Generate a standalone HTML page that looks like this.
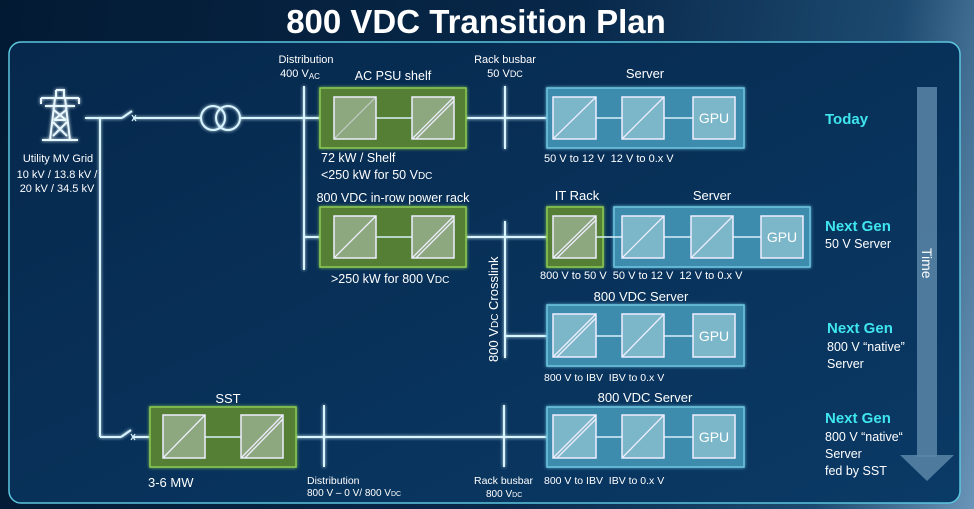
<!DOCTYPE html>
<html><head><meta charset="utf-8"><style>
html,body{margin:0;padding:0;}
body{width:974px;height:509px;overflow:hidden;background:linear-gradient(100deg,#031a33 0%,#08284a 55%,#1d4a70 85%,#6a95b8 100%);font-family:"Liberation Sans",sans-serif;}
svg{position:absolute;left:0;top:0}
text{font-family:"Liberation Sans",sans-serif;fill:#fff}
</style></head><body>
<svg width="974" height="509" viewBox="0 0 974 509">
<defs>
<filter id="g" x="-20%" y="-20%" width="140%" height="140%"><feGaussianBlur stdDeviation="1.5" result="b"/><feMerge><feMergeNode in="b"/><feMergeNode in="SourceGraphic"/></feMerge></filter>
<linearGradient id="pn" x1="0" y1="0" x2="1" y2="1"><stop offset="0" stop-color="#06284c"/><stop offset="1" stop-color="#0a3a66"/></linearGradient>
</defs>
<text x="476" y="33" font-size="33" font-weight="bold" text-anchor="middle">800 VDC Transition Plan</text>
<rect x="9" y="42" width="951" height="461" rx="12" fill="url(#pn)" stroke="#5cc6de" stroke-width="1.5"/>

<!-- time arrow -->
<rect x="917" y="87" width="20" height="370" fill="#5a86a8" opacity="0.85"/>
<polygon points="900,455 954,455 927,481" fill="#5a86a8" opacity="0.85"/>
<text x="0" y="0" font-size="14" transform="translate(922,248) rotate(90)" fill="#fff">Time</text>

<g stroke="#d8f4ff" stroke-width="2" fill="none" filter="url(#g)">
<line x1="85" y1="118" x2="122" y2="118"/>
<line x1="122" y1="118" x2="132" y2="111"/>
<line x1="134" y1="118" x2="202" y2="118"/>
<circle cx="213" cy="118" r="12"/><circle cx="228" cy="118" r="12"/>
<line x1="240" y1="118" x2="334" y2="118"/>
<line x1="100" y1="118" x2="100" y2="437"/>
<line x1="100" y1="437" x2="121" y2="437"/>
<line x1="121" y1="437" x2="131" y2="430"/>
<line x1="133" y1="437" x2="163" y2="437"/>
<line x1="304" y1="86" x2="304" y2="270"/>
<line x1="304" y1="237" x2="334" y2="237"/>
<line x1="454" y1="118" x2="553" y2="118"/>
<line x1="505" y1="86" x2="505" y2="149"/>
<line x1="454" y1="237" x2="553" y2="237"/>
<line x1="505" y1="221" x2="505" y2="358"/>
<line x1="505" y1="336" x2="553" y2="336"/>
<line x1="283" y1="437" x2="553" y2="437"/>
<line x1="324" y1="405" x2="324" y2="467"/>
<line x1="504" y1="405" x2="504" y2="467"/>
</g>
<g stroke="#d8f4ff" stroke-width="1.2"><line x1="132" y1="115" x2="136" y2="121"/><line x1="136" y1="115" x2="132" y2="121"/>
<line x1="131" y1="434" x2="135" y2="440"/><line x1="135" y1="434" x2="131" y2="440"/></g>

<g stroke="#e8f8ff" stroke-width="2" fill="none" filter="url(#g)">
<path d="M50 140 L55 98 L65 98 L70 140 M42 140 L78 140 M41 98 L79 98 M41 98 L41 104 M79 98 L79 104 M45 106 L75 106 M56 90 L64 90 L64 98 M56 90 L56 98 M54 110 L66 120 M66 110 L54 120 M53 122 L67 136 M67 122 L53 136 M54 120 L66 120"/>
</g>

<g fill="#557f36" stroke="#8ccc52" stroke-width="1.5" filter="url(#g)">
<rect x="320" y="88" width="146" height="60"/>
<rect x="320" y="207" width="146" height="60"/>
<rect x="547" y="207" width="56" height="60"/>
<rect x="150" y="407" width="146" height="60"/>
</g>
<g fill="#3d8bad" stroke="#6fc6e0" stroke-width="1.5" filter="url(#g)">
<rect x="547" y="88" width="197" height="60"/>
<rect x="614" y="207" width="196" height="60"/>
<rect x="547" y="305" width="197" height="61"/>
<rect x="547" y="407" width="197" height="60"/>
</g>
<g stroke="#d8f0f8" stroke-width="1.5">
<line x1="376" y1="118" x2="412" y2="118"/><line x1="376" y1="237" x2="412" y2="237"/>
<line x1="205" y1="437" x2="241" y2="437"/>
<line x1="596" y1="118" x2="622" y2="118"/><line x1="664" y1="118" x2="693" y2="118"/>
<line x1="596" y1="237" x2="622" y2="237"/><line x1="664" y1="237" x2="691" y2="237"/><line x1="733" y1="237" x2="761" y2="237"/>
<line x1="596" y1="336" x2="622" y2="336"/><line x1="664" y1="336" x2="693" y2="336"/>
<line x1="596" y1="437" x2="622" y2="437"/><line x1="664" y1="437" x2="693" y2="437"/>
</g>
<g fill="#8da77e" stroke="#eef" stroke-width="1.5">
<rect x="334" y="97" width="42" height="42"/><rect x="412" y="97" width="42" height="42"/>
<rect x="334" y="216" width="42" height="42"/><rect x="412" y="216" width="42" height="42"/>
<rect x="553" y="216" width="43" height="42"/>
<rect x="163" y="415" width="42" height="43"/><rect x="241" y="415" width="42" height="43"/>
</g>
<g fill="#7cb6c9" stroke="#eef" stroke-width="1.5">
<rect x="553" y="97" width="43" height="42"/><rect x="622" y="97" width="42" height="42"/><rect x="693" y="97" width="42" height="42"/>
<rect x="622" y="216" width="42" height="42"/><rect x="691" y="216" width="42" height="42"/><rect x="761" y="216" width="42" height="42"/>
<rect x="553" y="314" width="43" height="43"/><rect x="622" y="314" width="42" height="43"/><rect x="693" y="314" width="42" height="43"/>
<rect x="553" y="415" width="43" height="43"/><rect x="622" y="415" width="42" height="43"/><rect x="693" y="415" width="42" height="43"/>
</g>
<g stroke="#eef" stroke-width="1.3">
<line x1="334" y1="139" x2="376" y2="97" opacity="0.5"/>
<line x1="412" y1="139" x2="454" y2="97"/><line x1="416" y1="139" x2="454" y2="101"/>
<line x1="334" y1="258" x2="376" y2="216"/>
<line x1="412" y1="258" x2="454" y2="216"/><line x1="416" y1="258" x2="454" y2="220"/>
<line x1="553" y1="258" x2="596" y2="216"/><line x1="557" y1="258" x2="596" y2="220"/>
<line x1="163" y1="458" x2="205" y2="415"/>
<line x1="241" y1="458" x2="283" y2="415"/><line x1="245" y1="458" x2="283" y2="419"/>
<line x1="553" y1="139" x2="596" y2="97"/><line x1="622" y1="139" x2="664" y2="97"/>
<line x1="622" y1="258" x2="664" y2="216"/><line x1="691" y1="258" x2="733" y2="216"/>
<line x1="553" y1="357" x2="596" y2="314"/><line x1="557" y1="357" x2="596" y2="318"/><line x1="622" y1="357" x2="664" y2="314"/>
<line x1="553" y1="458" x2="596" y2="415"/><line x1="557" y1="458" x2="596" y2="419"/><line x1="622" y1="458" x2="664" y2="415"/>
</g>
<g font-size="14" text-anchor="middle">
<text x="714" y="123">GPU</text><text x="782" y="242">GPU</text><text x="714" y="341">GPU</text><text x="714" y="442">GPU</text>
</g>

<g font-size="11">
<text x="58" y="162" text-anchor="middle">Utility MV Grid</text>
<text x="57" y="178" text-anchor="middle">10 kV / 13.8 kV /</text>
<text x="57" y="192" text-anchor="middle">20 kV / 34.5 kV</text>
<text x="306" y="63" text-anchor="middle">Distribution</text>
<text x="300" y="77" text-anchor="middle">400 V<tspan font-size="8" dy="2">AC</tspan></text>
<text x="505" y="63" text-anchor="middle">Rack busbar</text>
<text x="505" y="77" text-anchor="middle">50 V<tspan font-size="9">DC</tspan></text>
<text x="544" y="162">50 V to 12 V&#160; 12 V to 0.x V</text>
<text x="540" y="279">800 V to 50 V&#160; 50 V to 12 V&#160; 12 V to 0.x V</text>
<text x="544" y="381" font-size="10.5">800 V to IBV&#160; IBV to 0.x V</text>
<text x="544" y="484" font-size="10.5">800 V to IBV&#160; IBV to 0.x V</text>
<text x="307" y="484" font-size="10.5">Distribution</text>
<text x="307" y="496" font-size="10">800 V – 0 V/ 800 V<tspan font-size="7">DC</tspan></text>
<text x="474" y="484" font-size="10.5">Rack busbar</text>
<text x="486" y="497" font-size="10">800 V<tspan font-size="7">DC</tspan></text>
</g>
<g font-size="12.5">
<text x="393" y="80" text-anchor="middle">AC PSU shelf</text>
<text x="321" y="162">72 kW / Shelf</text>
<text x="321" y="179">&lt;250 kW for 50 V<tspan font-size="10">DC</tspan></text>
<text x="393" y="202" text-anchor="middle">800 VDC in-row power rack</text>
<text x="331" y="283">&gt;250 kW for 800 V<tspan font-size="10">DC</tspan></text>
<text x="645" y="78" text-anchor="middle" font-size="13">Server</text>
<text x="577" y="200" text-anchor="middle" font-size="13">IT Rack</text>
<text x="712" y="200" text-anchor="middle" font-size="13">Server</text>
<text x="641" y="301" text-anchor="middle" font-size="13">800 VDC Server</text>
<text x="645" y="402" text-anchor="middle" font-size="13">800 VDC Server</text>
<text x="228" y="403" text-anchor="middle" font-size="13">SST</text>
<text x="148" y="487" font-size="13">3-6 MW</text>
<text transform="translate(498,362) rotate(-90)" font-size="13">800 V<tspan font-size="10">DC</tspan> Crosslink</text>
</g>
<g font-size="15" font-weight="bold">
<text x="825" y="124" style="fill:#3fe6f0">Today</text>
<text x="825" y="231" style="fill:#3fe6f0">Next Gen</text>
<text x="827" y="333" style="fill:#3fe6f0">Next Gen</text>
<text x="825" y="423" style="fill:#3fe6f0">Next Gen</text>
</g>
<g font-size="12.5">
<text x="825" y="248">50 V Server</text>
<text x="827" y="351">800 V “native”</text>
<text x="827" y="368">Server</text>
<text x="825" y="441">800 V “native“</text>
<text x="825" y="458">Server</text>
<text x="825" y="475">fed by SST</text>
</g>
</svg>
</body></html>
